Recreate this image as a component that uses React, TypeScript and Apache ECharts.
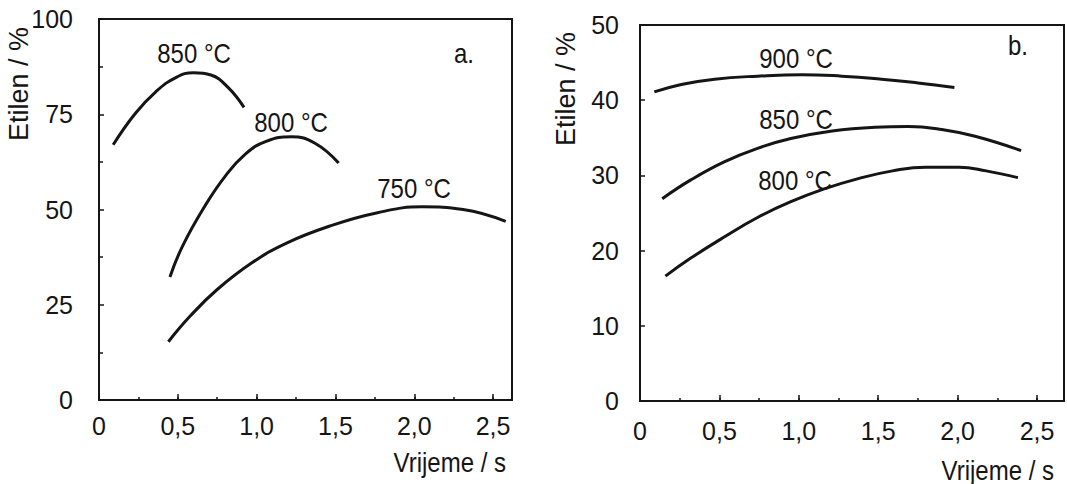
import React, { useEffect, useRef } from "react";
import * as echarts from "echarts";

// Panel a (left): time [s] and ethylene [%]
const tA850 = [0.09, 0.23, 0.36, 0.49, 0.6, 0.71, 0.82, 0.92];
const vA850 = [67.0, 75.2, 80.9, 84.7, 85.9, 85.3, 82.0, 76.8];
const tA800 = [0.45, 0.53, 0.67, 0.8, 0.93, 1.06, 1.22, 1.37, 1.52];
const vA800 = [32.3, 40.4, 50.8, 58.7, 64.6, 67.9, 69.1, 67.4, 62.2];
const tA750 = [0.44, 0.58, 0.75, 0.97, 1.19, 1.46, 1.76, 2.05, 2.31, 2.58];
const vA750 = [15.3, 22.1, 29.0, 36.0, 41.2, 45.6, 49.1, 50.7, 50.0, 46.9];

// Panel b (right)
const tB900 = [0.09, 0.26, 0.47, 0.74, 1.02, 1.27, 1.52, 1.75, 1.98];
const vB900 = [41.1, 42.1, 42.8, 43.2, 43.4, 43.2, 42.8, 42.3, 41.7];
const tB850 = [0.14, 0.32, 0.53, 0.74, 0.95, 1.21, 1.48, 1.69, 1.9, 2.11, 2.4];
const vB850 = [26.9, 29.4, 31.8, 33.6, 34.9, 35.9, 36.4, 36.5, 36.1, 35.2, 33.3];
const tB800 = [0.16, 0.32, 0.53, 0.74, 0.95, 1.16, 1.38, 1.59, 1.8, 2.01, 2.18, 2.38];
const vB800 = [16.6, 19.0, 21.8, 24.4, 26.5, 28.2, 29.6, 30.6, 31.1, 31.1, 30.6, 29.7];

const curveLabelsA = ["850 °C", "800 °C", "750 °C"];
const curveLabelsB = ["900 °C", "850 °C", "800 °C"];
const panelTags = ["a.", "b."];
const xName = "Vrijeme / s";
const yName = "Etilen / %";

const FONT = "Liberation Sans, Arial, sans-serif";
const INK = "#151515";
const FS = 24;
const AXFS = 25;

const pairs = (t: number[], v: number[]) => t.map((x, i) => [x, v[i]]);

const fmtX = (v: number) => {
  const k = v / 0.5;
  if (Math.abs(k - Math.round(k)) > 1e-6) return "";
  if (Math.abs(v) < 1e-9) return "0";
  return v.toFixed(1).replace(".", ",");
};

export default function App() {
  const ref = useRef<HTMLDivElement>(null);
  useEffect(() => {
    if (!ref.current) return;
    const chart = echarts.init(ref.current, null, { renderer: "svg" });

    const xMaxA = 2.62;
    const xMaxB = 2.67;

    const xAxisBase = (grid: number, max: number, margin: number) => [
      {
        gridIndex: grid,
        type: "value",
        position: "bottom",
        min: 0,
        max,
        interval: 0.5,
        splitLine: { show: false },
        axisLine: { show: false },
        axisTick: { show: true, inside: true, length: 6, lineStyle: { color: INK, width: 1.5 } },
        axisLabel: {
          formatter: fmtX,
          fontSize: AXFS,
          fontFamily: FONT,
          color: INK,
          margin,
        },
      },
      {
        gridIndex: grid,
        type: "value",
        position: "bottom",
        min: 0,
        max,
        interval: 0.25,
        splitLine: { show: false },
        axisLine: { show: false },
        axisTick: { show: true, inside: true, length: 3, lineStyle: { color: INK, width: 1.5 } },
        axisLabel: { show: false },
      },
    ];

    const lineSeries = (xi: number, yi: number, data: number[][]) => ({
      type: "line",
      xAxisIndex: xi,
      yAxisIndex: yi,
      data,
      smooth: 0.45,
      showSymbol: false,
      symbol: "none",
      lineStyle: { color: INK, width: 3 },
      silent: true,
    });

    const txt = (x: number, y: number, text: string, size = FS, extra: any = {}, el: any = {}) => ({
      type: "text",
      x,
      y,
      ...el,
      style: {
        text,
        fontSize: size,
        fontFamily: FONT,
        fill: INK,
        align: "center",
        verticalAlign: "middle",
        textAlign: "center",
        textVerticalAlign: "middle",
        ...extra,
      },
    });

    const stretch = { scaleY: 1.15 };

    chart.setOption({
      animation: false,
      backgroundColor: "#ffffff",
      grid: [
        { left: 99, top: 19, width: 413, height: 381, show: true, borderColor: INK, borderWidth: 2, backgroundColor: "transparent" },
        { left: 640, top: 25, width: 425, height: 376, show: true, borderColor: INK, borderWidth: 2, backgroundColor: "transparent" },
      ],
      xAxis: [...xAxisBase(0, xMaxA, 13), ...xAxisBase(1, xMaxB, 17)],
      yAxis: [
        {
          gridIndex: 0,
          type: "value",
          min: 0,
          max: 100,
          interval: 25,
          splitLine: { show: false },
          axisLine: { show: false },
          axisTick: { show: true, inside: true, length: 5, lineStyle: { color: INK, width: 1.5 } },
          minorTick: { show: true, splitNumber: 2, length: 4, lineStyle: { color: INK, width: 1.5 } },
          axisLabel: { fontSize: AXFS, fontFamily: FONT, color: INK, margin: 26 },
        },
        {
          gridIndex: 1,
          type: "value",
          min: 0,
          max: 50,
          interval: 10,
          splitLine: { show: false },
          axisLine: { show: false },
          axisTick: { show: true, inside: true, length: 5, lineStyle: { color: INK, width: 1.5 } },
          axisLabel: { fontSize: AXFS, fontFamily: FONT, color: INK, margin: 21 },
        },
      ],
      series: [
        lineSeries(0, 0, pairs(tA850, vA850)),
        lineSeries(0, 0, pairs(tA800, vA800)),
        lineSeries(0, 0, pairs(tA750, vA750)),
        lineSeries(2, 1, pairs(tB900, vB900)),
        lineSeries(2, 1, pairs(tB850, vB850)),
        lineSeries(2, 1, pairs(tB800, vB800)),
      ],
      graphic: [
        txt(194, 53, curveLabelsA[0], FS, {}, stretch),
        txt(291, 122, curveLabelsA[1], FS, {}, stretch),
        txt(414, 188, curveLabelsA[2], FS, {}, stretch),
        txt(464, 53, panelTags[0], FS, {}, stretch),
        txt(796, 58, curveLabelsB[0], FS, {}, stretch),
        txt(796, 119, curveLabelsB[1], FS, {}, stretch),
        txt(795, 180, curveLabelsB[2], FS, {}, stretch),
        txt(1018, 45, panelTags[1], FS, {}, stretch),
        txt(506, 462, xName, FS, { align: "right", textAlign: "right" }, stretch),
        txt(1054, 470, xName, FS, { align: "right", textAlign: "right" }, stretch),
        txt(19, 84, yName, 27, {}, { rotation: Math.PI / 2 }),
        txt(566, 89, yName, 27, {}, { rotation: Math.PI / 2 }),
      ],
    });

    return () => chart.dispose();
  }, []);

  return (
    <div
      ref={ref}
      style={{ position: "fixed", left: 0, top: 0, width: 1067, height: 484, background: "#fff" }}
    />
  );
}
